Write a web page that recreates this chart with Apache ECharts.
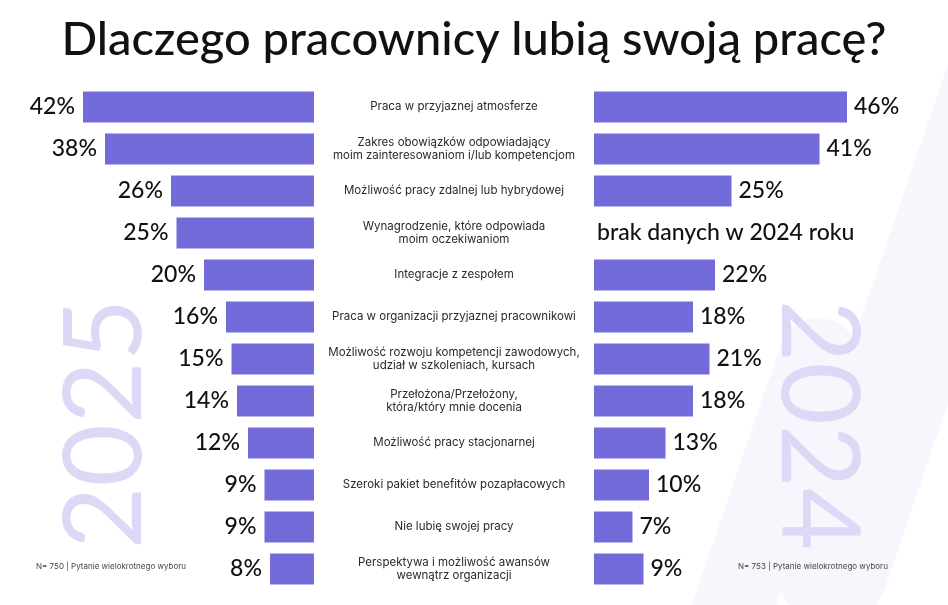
<!DOCTYPE html>
<html><head><meta charset="utf-8">
<script src="https://cdn.jsdelivr.net/npm/echarts@6/dist/echarts.min.js"></script>
<style>html,body{margin:0;padding:0;background:#fff}#c{width:948px;height:605px}</style>
</head><body><div id="c"></div>
<script>
const titleText = 'Dlaczego pracownicy lubią swoją pracę?';
const categories = [
  'Praca w przyjaznej atmosferze',
  'Zakres obowiązków odpowiadający\nmoim zainteresowaniom i/lub kompetencjom',
  'Możliwość pracy zdalnej lub hybrydowej',
  'Wynagrodzenie, które odpowiada\nmoim oczekiwaniom',
  'Integracje z zespołem',
  'Praca w organizacji przyjaznej pracownikowi',
  'Możliwość rozwoju kompetencji zawodowych,\nudział w szkoleniach, kursach',
  'Przełożona/Przełożony,\nktóra/który mnie docenia',
  'Możliwość pracy stacjonarnej',
  'Szeroki pakiet benefitów pozapłacowych',
  'Nie lubię swojej pracy',
  'Perspektywa i możliwość awansów\nwewnątrz organizacji'
];
const values2025 = [42, 38, 26, 25, 20, 16, 15, 14, 12, 9, 9, 8];
const values2024 = [46, 41, 25, null, 22, 18, 21, 18, 13, 10, 7, 9];
const noDataText = 'brak danych w 2024 roku';
const yearLeft = '2025';
const yearRight = '2024';
const note2025 = 'N= 750 | Pytanie wielokrotnego wyboru';
const note2024 = 'N= 753 | Pytanie wielokrotnego wyboru';

const BAR = '#726bd9';
const LAV = '#dcd9f6';
const FAINT = '#f7f6fd';
const valueFont = { fontFamily: 'Lato', fontSize: 23, color: '#111', fontWeight: 500 };

const chart = echarts.init(document.getElementById('c'), null, { renderer: 'canvas' });

const data2024 = values2024.map(v => v == null
  ? { value: 0, label: { show: true, formatter: noDataText, distance: 3 } }
  : v);

function bgBand(cx, cy, w, h, rot) {
  return { type: 'rect', x: cx, y: cy, rotation: rot, z: -10,
    shape: { x: -w / 2, y: -h / 2, width: w, height: h, r: w / 2 },
    style: { fill: FAINT } };
}

chart.setOption({
  backgroundColor: '#ffffff',
  animation: false,
  title: {
    text: titleText, left: 'center', top: 11,
    textStyle: { fontFamily: 'Lato', fontSize: 47, fontWeight: 500, color: '#111' }
  },
  grid: [
    { left: 39, right: 634, top: 86, height: 504, containLabel: false },
    { left: 594, right: 79, top: 86, height: 504, containLabel: false }
  ],
  xAxis: [
    { gridIndex: 0, type: 'value', min: 0, max: 50, inverse: true, show: false },
    { gridIndex: 1, type: 'value', min: 0, max: 50, show: false }
  ],
  yAxis: [
    { gridIndex: 0, type: 'category', data: categories, inverse: true, show: false },
    { gridIndex: 1, type: 'category', data: categories, inverse: true,
      axisLine: { show: false }, axisTick: { show: false }, splitLine: { show: false },
      axisLabel: { align: 'center', margin: 140, fontFamily: 'Inter', fontSize: 11.5,
        lineHeight: 13.5, color: '#2a2a2a' } }
  ],
  series: [
    { type: 'bar', xAxisIndex: 0, yAxisIndex: 0, data: values2025, barWidth: 31,
      itemStyle: { color: BAR },
      label: Object.assign({ show: true, position: 'left', distance: 8, formatter: '{c}%' }, valueFont) },
    { type: 'bar', xAxisIndex: 1, yAxisIndex: 1, data: data2024, barWidth: 31,
      itemStyle: { color: BAR },
      label: Object.assign({ show: true, position: 'right', distance: 7, formatter: '{c}%' }, valueFont) }
  ],
  graphic: [
    bgBand(915, 330, 110, 620, -0.33),
    bgBand(770, 500, 80, 380, -0.33),
    { type: 'text', x: 106, y: 424, rotation: Math.PI / 2, z: -5,
      style: { text: yearLeft, fill: LAV, font: '400 108px Lato',
        textAlign: 'center', textVerticalAlign: 'middle', align: 'center', verticalAlign: 'middle' } },
    { type: 'text', x: 817, y: 425, rotation: -Math.PI / 2, z: -5,
      style: { text: yearRight, fill: LAV, font: '400 108px Lato',
        textAlign: 'center', textVerticalAlign: 'middle', align: 'center', verticalAlign: 'middle' } },
    { type: 'text', x: 36, y: 567,
      style: { text: note2025, fill: '#444', font: '8px Inter', textVerticalAlign: 'middle', verticalAlign: 'middle' } },
    { type: 'text', x: 738, y: 567,
      style: { text: note2024, fill: '#444', font: '8px Inter', textVerticalAlign: 'middle', verticalAlign: 'middle' } }
  ]
});
</script>
</body></html>
